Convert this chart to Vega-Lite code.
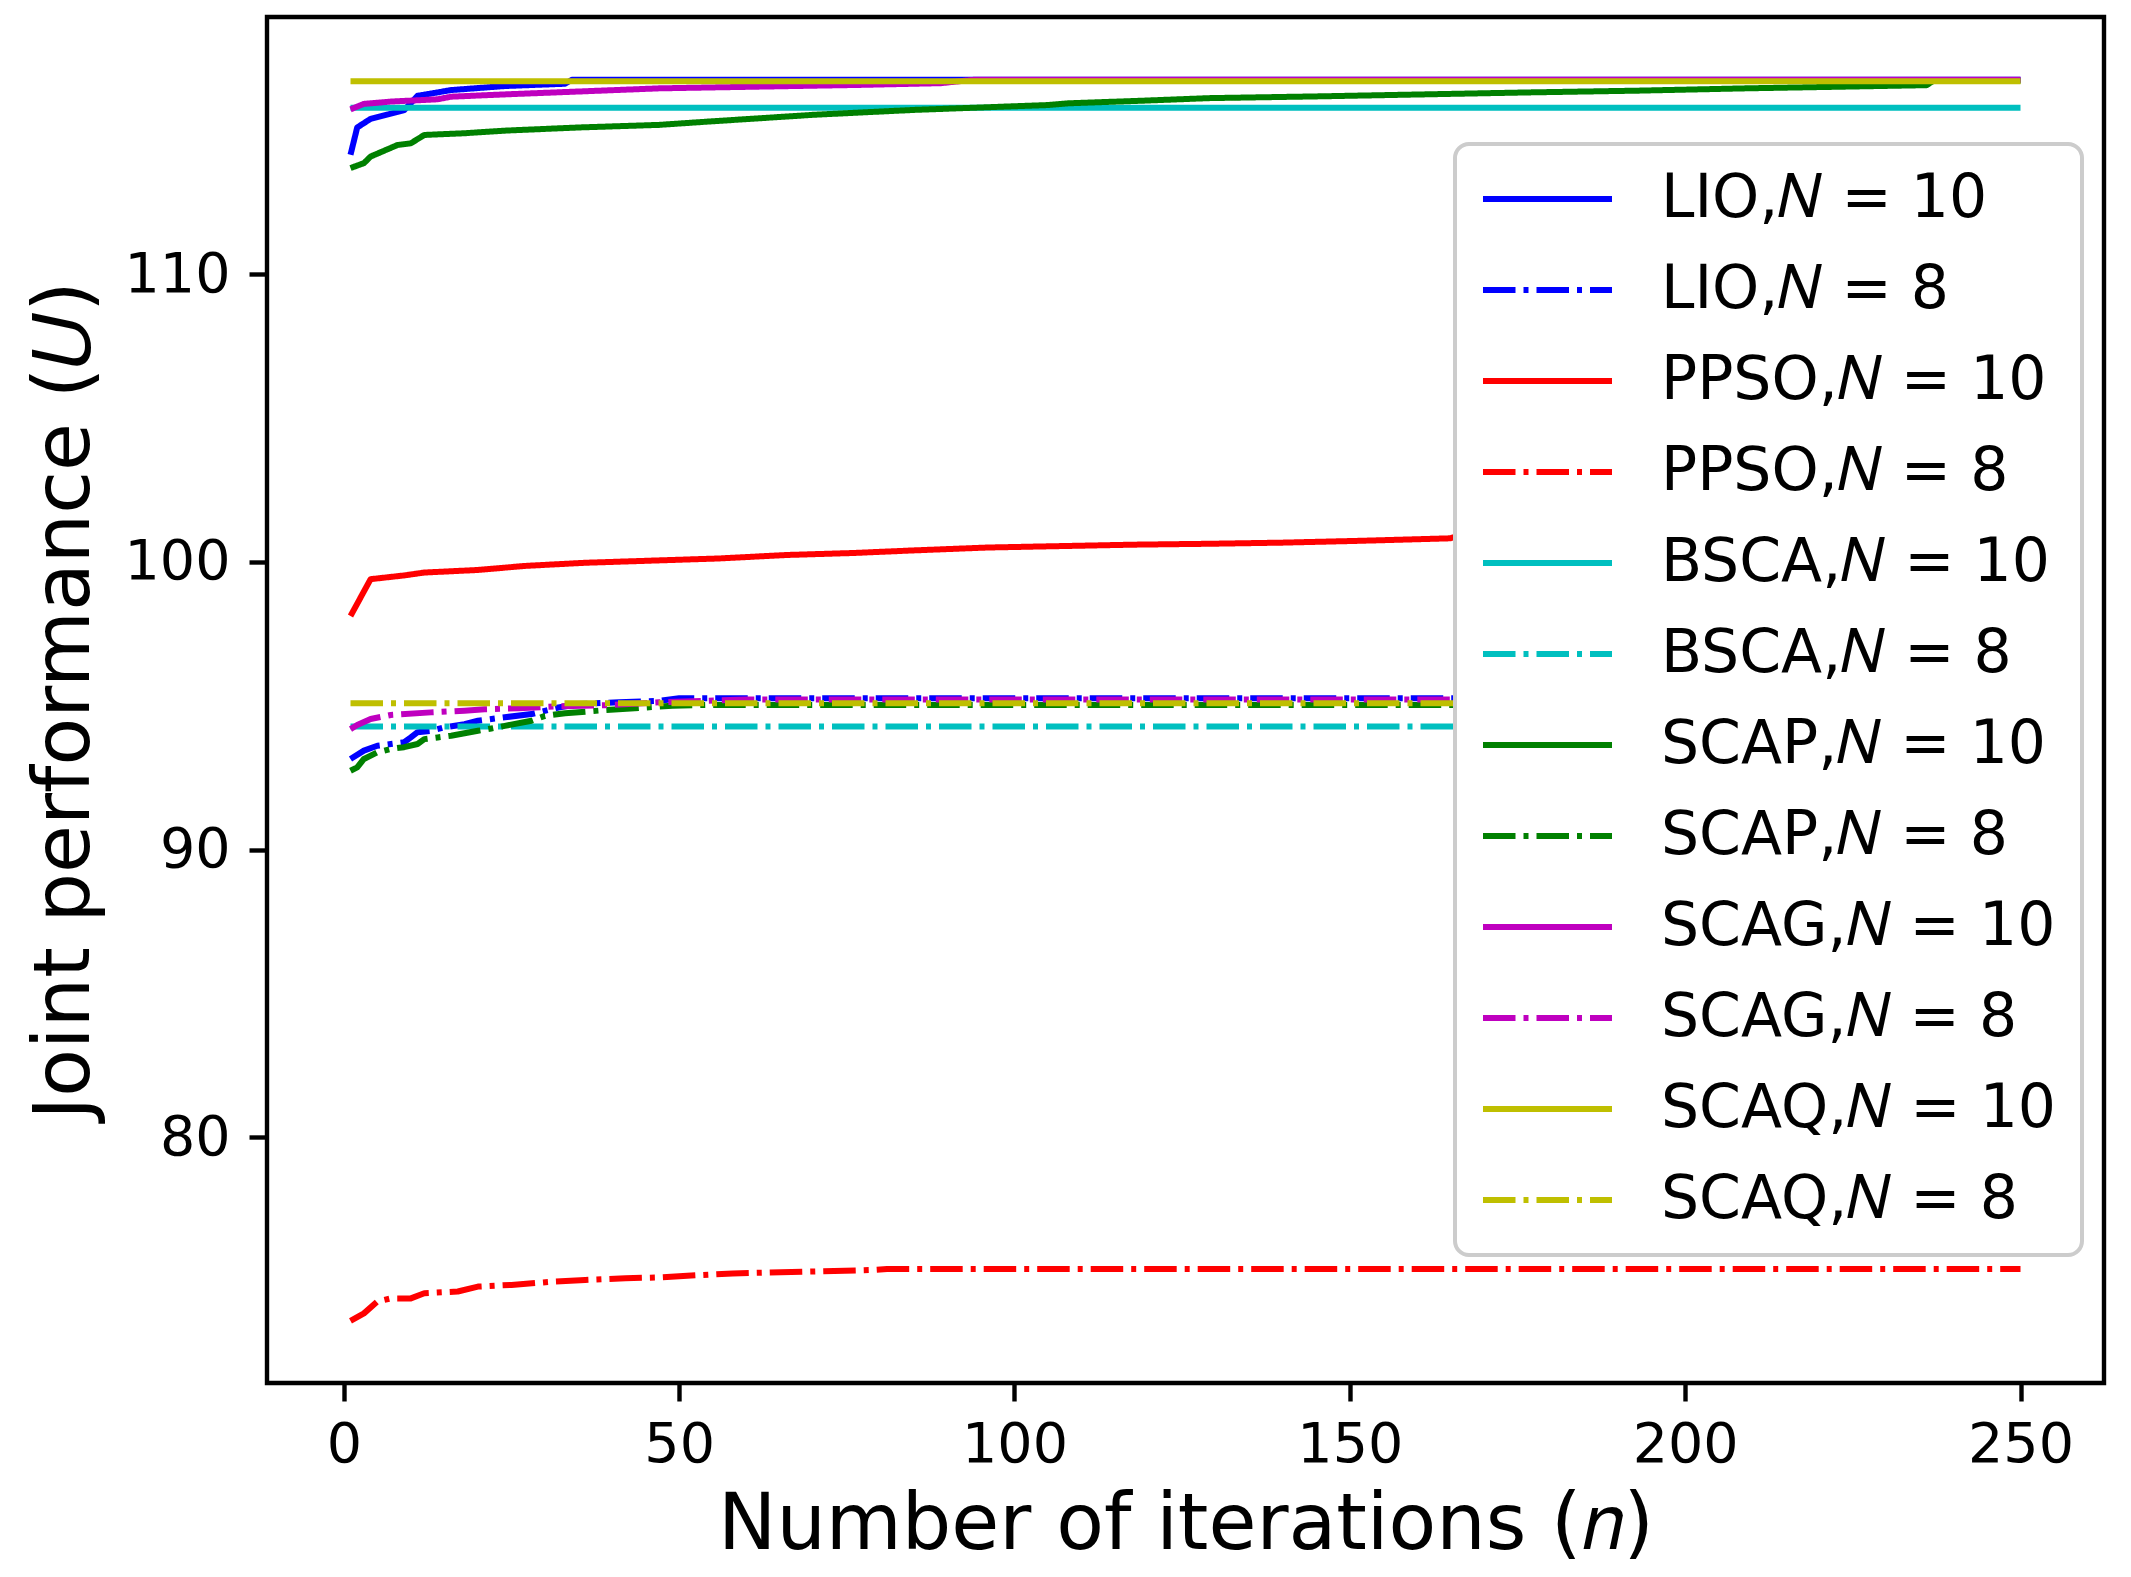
{
  "$schema": "https://vega.github.io/schema/vega-lite/v6.json",
  "width": 1837,
  "height": 1366,
  "autosize": {"type": "none"},
  "padding": {"left": 267, "top": 17, "right": 27, "bottom": 194},
  "background": "white",
  "data": {
    "values": [
      {"s": "LIO,𝑁 = 10", "n": 1, "u": 114.15},
      {"s": "LIO,𝑁 = 10", "n": 2, "u": 115.1},
      {"s": "LIO,𝑁 = 10", "n": 4, "u": 115.4},
      {"s": "LIO,𝑁 = 10", "n": 9, "u": 115.7},
      {"s": "LIO,𝑁 = 10", "n": 11, "u": 116.2},
      {"s": "LIO,𝑁 = 10", "n": 16, "u": 116.4},
      {"s": "LIO,𝑁 = 10", "n": 24, "u": 116.54},
      {"s": "LIO,𝑁 = 10", "n": 33, "u": 116.62},
      {"s": "LIO,𝑁 = 10", "n": 34, "u": 116.76},
      {"s": "LIO,𝑁 = 10", "n": 250, "u": 116.76},

      {"s": "LIO,𝑁 = 8", "n": 1, "u": 93.15},
      {"s": "LIO,𝑁 = 8", "n": 3, "u": 93.44},
      {"s": "LIO,𝑁 = 8", "n": 5, "u": 93.61},
      {"s": "LIO,𝑁 = 8", "n": 7, "u": 93.67},
      {"s": "LIO,𝑁 = 8", "n": 9, "u": 93.73},
      {"s": "LIO,𝑁 = 8", "n": 10, "u": 93.9},
      {"s": "LIO,𝑁 = 8", "n": 11, "u": 94.08},
      {"s": "LIO,𝑁 = 8", "n": 13, "u": 94.13},
      {"s": "LIO,𝑁 = 8", "n": 15, "u": 94.25},
      {"s": "LIO,𝑁 = 8", "n": 18, "u": 94.36},
      {"s": "LIO,𝑁 = 8", "n": 20, "u": 94.48},
      {"s": "LIO,𝑁 = 8", "n": 24, "u": 94.6},
      {"s": "LIO,𝑁 = 8", "n": 28, "u": 94.71},
      {"s": "LIO,𝑁 = 8", "n": 32, "u": 94.94},
      {"s": "LIO,𝑁 = 8", "n": 35, "u": 95.06},
      {"s": "LIO,𝑁 = 8", "n": 41, "u": 95.12},
      {"s": "LIO,𝑁 = 8", "n": 47, "u": 95.17},
      {"s": "LIO,𝑁 = 8", "n": 50, "u": 95.26},
      {"s": "LIO,𝑁 = 8", "n": 250, "u": 95.26},

      {"s": "PPSO,𝑁 = 10", "n": 1, "u": 98.12},
      {"s": "PPSO,𝑁 = 10", "n": 4, "u": 99.4},
      {"s": "PPSO,𝑁 = 10", "n": 9, "u": 99.53},
      {"s": "PPSO,𝑁 = 10", "n": 12, "u": 99.63},
      {"s": "PPSO,𝑁 = 10", "n": 20, "u": 99.72},
      {"s": "PPSO,𝑁 = 10", "n": 27, "u": 99.86},
      {"s": "PPSO,𝑁 = 10", "n": 36, "u": 99.97},
      {"s": "PPSO,𝑁 = 10", "n": 44, "u": 100.03},
      {"s": "PPSO,𝑁 = 10", "n": 56, "u": 100.12},
      {"s": "PPSO,𝑁 = 10", "n": 66, "u": 100.24},
      {"s": "PPSO,𝑁 = 10", "n": 76, "u": 100.31},
      {"s": "PPSO,𝑁 = 10", "n": 85, "u": 100.4},
      {"s": "PPSO,𝑁 = 10", "n": 96, "u": 100.5},
      {"s": "PPSO,𝑁 = 10", "n": 107, "u": 100.55},
      {"s": "PPSO,𝑁 = 10", "n": 118, "u": 100.6},
      {"s": "PPSO,𝑁 = 10", "n": 129, "u": 100.63},
      {"s": "PPSO,𝑁 = 10", "n": 140, "u": 100.67},
      {"s": "PPSO,𝑁 = 10", "n": 151, "u": 100.73},
      {"s": "PPSO,𝑁 = 10", "n": 165, "u": 100.82},
      {"s": "PPSO,𝑁 = 10", "n": 166, "u": 100.9},
      {"s": "PPSO,𝑁 = 10", "n": 200, "u": 101.0},
      {"s": "PPSO,𝑁 = 10", "n": 250, "u": 101.1},

      {"s": "PPSO,𝑁 = 8", "n": 1, "u": 73.62},
      {"s": "PPSO,𝑁 = 8", "n": 3, "u": 73.88},
      {"s": "PPSO,𝑁 = 8", "n": 5, "u": 74.29},
      {"s": "PPSO,𝑁 = 8", "n": 7, "u": 74.4},
      {"s": "PPSO,𝑁 = 8", "n": 10, "u": 74.4},
      {"s": "PPSO,𝑁 = 8", "n": 12, "u": 74.58},
      {"s": "PPSO,𝑁 = 8", "n": 17, "u": 74.64},
      {"s": "PPSO,𝑁 = 8", "n": 20, "u": 74.81},
      {"s": "PPSO,𝑁 = 8", "n": 25, "u": 74.87},
      {"s": "PPSO,𝑁 = 8", "n": 31, "u": 74.98},
      {"s": "PPSO,𝑁 = 8", "n": 36, "u": 75.04},
      {"s": "PPSO,𝑁 = 8", "n": 42, "u": 75.1},
      {"s": "PPSO,𝑁 = 8", "n": 47, "u": 75.13},
      {"s": "PPSO,𝑁 = 8", "n": 53, "u": 75.21},
      {"s": "PPSO,𝑁 = 8", "n": 58, "u": 75.27},
      {"s": "PPSO,𝑁 = 8", "n": 69, "u": 75.33},
      {"s": "PPSO,𝑁 = 8", "n": 79, "u": 75.39},
      {"s": "PPSO,𝑁 = 8", "n": 81, "u": 75.42},
      {"s": "PPSO,𝑁 = 8", "n": 250, "u": 75.42},

      {"s": "BSCA,𝑁 = 10", "n": 1, "u": 115.79},
      {"s": "BSCA,𝑁 = 10", "n": 250, "u": 115.79},

      {"s": "BSCA,𝑁 = 8", "n": 1, "u": 94.28},
      {"s": "BSCA,𝑁 = 8", "n": 250, "u": 94.28},

      {"s": "SCAP,𝑁 = 10", "n": 1, "u": 113.69},
      {"s": "SCAP,𝑁 = 10", "n": 3, "u": 113.86},
      {"s": "SCAP,𝑁 = 10", "n": 4, "u": 114.09},
      {"s": "SCAP,𝑁 = 10", "n": 8, "u": 114.49},
      {"s": "SCAP,𝑁 = 10", "n": 10, "u": 114.55},
      {"s": "SCAP,𝑁 = 10", "n": 12, "u": 114.84},
      {"s": "SCAP,𝑁 = 10", "n": 18, "u": 114.9},
      {"s": "SCAP,𝑁 = 10", "n": 24, "u": 114.99},
      {"s": "SCAP,𝑁 = 10", "n": 35, "u": 115.1},
      {"s": "SCAP,𝑁 = 10", "n": 47, "u": 115.19},
      {"s": "SCAP,𝑁 = 10", "n": 54, "u": 115.3},
      {"s": "SCAP,𝑁 = 10", "n": 62, "u": 115.42},
      {"s": "SCAP,𝑁 = 10", "n": 70, "u": 115.54},
      {"s": "SCAP,𝑁 = 10", "n": 77, "u": 115.62},
      {"s": "SCAP,𝑁 = 10", "n": 85, "u": 115.71},
      {"s": "SCAP,𝑁 = 10", "n": 92, "u": 115.77},
      {"s": "SCAP,𝑁 = 10", "n": 105, "u": 115.88},
      {"s": "SCAP,𝑁 = 10", "n": 108, "u": 115.94},
      {"s": "SCAP,𝑁 = 10", "n": 119, "u": 116.03},
      {"s": "SCAP,𝑁 = 10", "n": 129, "u": 116.12},
      {"s": "SCAP,𝑁 = 10", "n": 145, "u": 116.18},
      {"s": "SCAP,𝑁 = 10", "n": 161, "u": 116.25},
      {"s": "SCAP,𝑁 = 10", "n": 177, "u": 116.32},
      {"s": "SCAP,𝑁 = 10", "n": 193, "u": 116.38},
      {"s": "SCAP,𝑁 = 10", "n": 209, "u": 116.46},
      {"s": "SCAP,𝑁 = 10", "n": 224, "u": 116.52},
      {"s": "SCAP,𝑁 = 10", "n": 236, "u": 116.57},
      {"s": "SCAP,𝑁 = 10", "n": 237, "u": 116.72},
      {"s": "SCAP,𝑁 = 10", "n": 250, "u": 116.72},

      {"s": "SCAP,𝑁 = 8", "n": 1, "u": 92.74},
      {"s": "SCAP,𝑁 = 8", "n": 2, "u": 92.86},
      {"s": "SCAP,𝑁 = 8", "n": 3, "u": 93.15},
      {"s": "SCAP,𝑁 = 8", "n": 5, "u": 93.38},
      {"s": "SCAP,𝑁 = 8", "n": 7, "u": 93.5},
      {"s": "SCAP,𝑁 = 8", "n": 9, "u": 93.56},
      {"s": "SCAP,𝑁 = 8", "n": 11, "u": 93.67},
      {"s": "SCAP,𝑁 = 8", "n": 12, "u": 93.84},
      {"s": "SCAP,𝑁 = 8", "n": 14, "u": 93.9},
      {"s": "SCAP,𝑁 = 8", "n": 16, "u": 93.96},
      {"s": "SCAP,𝑁 = 8", "n": 20, "u": 94.13},
      {"s": "SCAP,𝑁 = 8", "n": 22, "u": 94.21},
      {"s": "SCAP,𝑁 = 8", "n": 24, "u": 94.3},
      {"s": "SCAP,𝑁 = 8", "n": 28, "u": 94.48},
      {"s": "SCAP,𝑁 = 8", "n": 30, "u": 94.65},
      {"s": "SCAP,𝑁 = 8", "n": 33, "u": 94.74},
      {"s": "SCAP,𝑁 = 8", "n": 39, "u": 94.85},
      {"s": "SCAP,𝑁 = 8", "n": 45, "u": 94.94},
      {"s": "SCAP,𝑁 = 8", "n": 49, "u": 95.0},
      {"s": "SCAP,𝑁 = 8", "n": 54, "u": 95.03},
      {"s": "SCAP,𝑁 = 8", "n": 250, "u": 95.03},

      {"s": "SCAG,𝑁 = 10", "n": 1, "u": 115.73},
      {"s": "SCAG,𝑁 = 10", "n": 3, "u": 115.92},
      {"s": "SCAG,𝑁 = 10", "n": 7, "u": 116.0},
      {"s": "SCAG,𝑁 = 10", "n": 14, "u": 116.08},
      {"s": "SCAG,𝑁 = 10", "n": 16, "u": 116.17},
      {"s": "SCAG,𝑁 = 10", "n": 24, "u": 116.25},
      {"s": "SCAG,𝑁 = 10", "n": 35, "u": 116.35},
      {"s": "SCAG,𝑁 = 10", "n": 47, "u": 116.46},
      {"s": "SCAG,𝑁 = 10", "n": 62, "u": 116.52},
      {"s": "SCAG,𝑁 = 10", "n": 77, "u": 116.58},
      {"s": "SCAG,𝑁 = 10", "n": 89, "u": 116.64},
      {"s": "SCAG,𝑁 = 10", "n": 94, "u": 116.76},
      {"s": "SCAG,𝑁 = 10", "n": 250, "u": 116.76},

      {"s": "SCAG,𝑁 = 8", "n": 1, "u": 94.19},
      {"s": "SCAG,𝑁 = 8", "n": 2, "u": 94.33},
      {"s": "SCAG,𝑁 = 8", "n": 4, "u": 94.54},
      {"s": "SCAG,𝑁 = 8", "n": 7, "u": 94.68},
      {"s": "SCAG,𝑁 = 8", "n": 13, "u": 94.77},
      {"s": "SCAG,𝑁 = 8", "n": 18, "u": 94.83},
      {"s": "SCAG,𝑁 = 8", "n": 21, "u": 94.88},
      {"s": "SCAG,𝑁 = 8", "n": 26, "u": 94.91},
      {"s": "SCAG,𝑁 = 8", "n": 32, "u": 94.98},
      {"s": "SCAG,𝑁 = 8", "n": 39, "u": 95.02},
      {"s": "SCAG,𝑁 = 8", "n": 47, "u": 95.12},
      {"s": "SCAG,𝑁 = 8", "n": 54, "u": 95.17},
      {"s": "SCAG,𝑁 = 8", "n": 60, "u": 95.22},
      {"s": "SCAG,𝑁 = 8", "n": 250, "u": 95.22},

      {"s": "SCAQ,𝑁 = 10", "n": 1, "u": 116.71},
      {"s": "SCAQ,𝑁 = 10", "n": 250, "u": 116.71},

      {"s": "SCAQ,𝑁 = 8", "n": 1, "u": 95.09},
      {"s": "SCAQ,𝑁 = 8", "n": 250, "u": 95.09}
    ]
  },
  "mark": {"type": "line", "strokeWidth": 6, "strokeJoin": "round", "clip": true},
  "encoding": {
    "x": {
      "field": "n",
      "type": "quantitative",
      "scale": {"domain": [-11.45, 262.45], "nice": false, "zero": false},
      "axis": {
        "values": [0, 50, 100, 150, 200, 250],
        "title": "Number of iterations (𝑛)",
        "titleX": 918.5,
        "titleY": 165,
        "titleAlign": "center",
        "titleBaseline": "alphabetic",
        "labelPadding": 16
      }
    },
    "y": {
      "field": "u",
      "type": "quantitative",
      "scale": {"domain": [71.46, 118.94], "nice": false, "zero": false},
      "axis": {
        "values": [80, 90, 100, 110],
        "title": "Joint performance (𝑈)",
        "titleX": -179,
        "titleY": 683,
        "titleAngle": 270,
        "titleAlign": "center",
        "titleBaseline": "alphabetic",
        "labelPadding": 19
      }
    },
    "color": {
      "field": "s",
      "type": "nominal",
      "sort": null,
      "scale": {
        "domain": ["LIO,𝑁 = 10", "LIO,𝑁 = 8", "PPSO,𝑁 = 10", "PPSO,𝑁 = 8", "BSCA,𝑁 = 10", "BSCA,𝑁 = 8", "SCAP,𝑁 = 10", "SCAP,𝑁 = 8", "SCAG,𝑁 = 10", "SCAG,𝑁 = 8", "SCAQ,𝑁 = 10", "SCAQ,𝑁 = 8"],
        "range": ["#0000ff", "#0000ff", "#ff0000", "#ff0000", "#00bfbf", "#00bfbf", "#008000", "#008000", "#bf00bf", "#bf00bf", "#bfbf00", "#bfbf00"]
      },
      "legend": {
        "title": null,
        "orient": "none",
        "legendX": 1188,
        "legendY": 127
      }
    },
    "strokeDash": {
      "field": "s",
      "type": "nominal",
      "sort": null,
      "scale": {
        "domain": ["LIO,𝑁 = 10", "LIO,𝑁 = 8", "PPSO,𝑁 = 10", "PPSO,𝑁 = 8", "BSCA,𝑁 = 10", "BSCA,𝑁 = 8", "SCAP,𝑁 = 10", "SCAP,𝑁 = 8", "SCAG,𝑁 = 10", "SCAG,𝑁 = 8", "SCAQ,𝑁 = 10", "SCAQ,𝑁 = 8"],
        "range": [[1, 0], [32.5, 8, 5, 8], [1, 0], [32.5, 8, 5, 8], [1, 0], [32.5, 8, 5, 8], [1, 0], [32.5, 8, 5, 8], [1, 0], [32.5, 8, 5, 8], [1, 0], [32.5, 8, 5, 8]]
      },
      "legend": {
        "title": null,
        "orient": "none",
        "legendX": 1188,
        "legendY": 127
      }
    }
  },
  "config": {
    "font": "DejaVu Sans",
    "view": {"stroke": "black", "strokeWidth": 4.4},
    "axis": {
      "domain": false,
      "grid": false,
      "ticks": true,
      "tickColor": "black",
      "tickWidth": 4.4,
      "tickSize": 18,
      "labelFont": "DejaVu Sans",
      "labelFontSize": 55.5,
      "labelColor": "black",
      "labelFlush": false,
      "labelOverlap": false,
      "labelBound": false,
      "titleFont": "DejaVu Sans",
      "titleFontSize": 78,
      "titleFontWeight": "normal",
      "titleColor": "black"
    },
    "legend": {
      "symbolType": "stroke",
      "symbolSize": 16641,
      "symbolStrokeWidth": 6,
      "symbolOffset": 0,
      "labelFont": "DejaVu Sans",
      "labelFontSize": 60,
      "labelColor": "black",
      "labelLimit": 2000,
      "labelOffset": 46,
      "rowPadding": 31,
      "clipHeight": 60,
      "padding": 25,
      "fillColor": "white",
      "strokeColor": "#cccccc",
      "strokeWidth": 4,
      "cornerRadius": 14
    }
  }
}
